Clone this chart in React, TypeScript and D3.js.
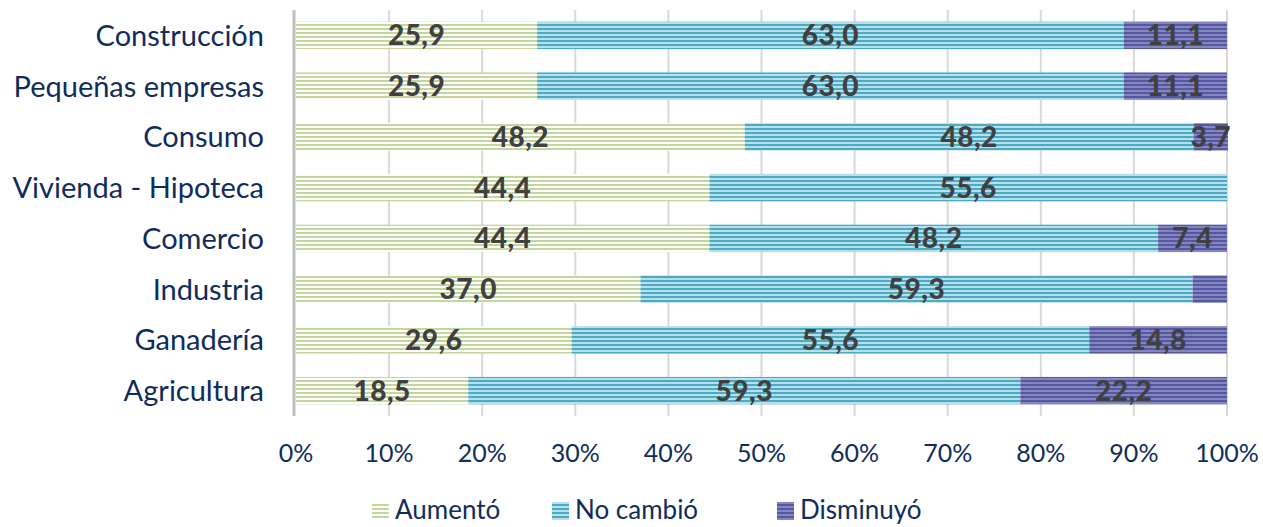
import React from "react";
import * as d3 from "d3";

const categories = ["Construcción", "Pequeñas empresas", "Consumo", "Vivienda - Hipoteca", "Comercio", "Industria", "Ganadería", "Agricultura"];
const aumento = [25.9, 25.9, 48.2, 44.4, 44.4, 37.0, 29.6, 18.5];
const noCambio = [63.0, 63.0, 48.2, 55.6, 48.2, 59.3, 55.6, 59.3];
const disminuyo = [11.1, 11.1, 3.7, 0, 7.4, 3.7, 14.8, 22.2];
const showLabel = [
  [true, true, true],
  [true, true, true],
  [true, true, true],
  [true, true, false],
  [true, true, true],
  [true, true, false],
  [true, true, true],
  [true, true, true],
];
const seriesNames = ["Aumentó", "No cambió", "Disminuyó"];
const ticks = [0, 10, 20, 30, 40, 50, 60, 70, 80, 90, 100];

const W = 1263, H = 527;
const FONT = "Lato, 'Open Sans', sans-serif";

const patterns = [
  { id: "pG", fg: "#c3d69b", bg: "#ffffff" },
  { id: "pB", fg: "#4aabc5", bg: "#b9e0ea" },
  { id: "pP", fg: "#55589e", bg: "#8486c2" },
];

export default function App() {
  const x = d3.scaleLinear().domain([0, 100]).range([296, 1227]);
  const y = d3.scaleBand().domain(categories).range([10, 416]).paddingInner(0.46).paddingOuter(0.23);
  const series = [aumento, noCambio, disminuyo];
  const fmt = (v: number) => v.toFixed(1).replace(".", ",");

  return (
    <svg width={W} height={H} style={{ position: "absolute", left: 0, top: 0, background: "#fff" }}>
      <defs>
        {patterns.map((p) => (
          <pattern key={p.id} id={p.id} width={8} height={4} patternUnits="userSpaceOnUse">
            <rect width={8} height={4} fill={p.bg} />
            <rect width={8} height={2} fill={p.fg} />
          </pattern>
        ))}
      </defs>
      {ticks.slice(1).map((t) => (
        <line key={t} x1={x(t)} x2={x(t)} y1={10} y2={416} stroke="#d9d9d9" strokeWidth={2} />
      ))}
      {categories.map((c, i) => {
        let acc = 0;
        return (
          <g key={c}>
            {series.map((s, k) => {
              const v = s[i];
              const x0 = x(acc);
              acc += v;
              const x1 = x(acc);
              if (v <= 0) return null;
              return (
                <rect key={k} x={x0} y={y(c)!} width={x1 - x0} height={y.bandwidth()} fill={`url(#${patterns[k].id})`} />
              );
            })}
          </g>
        );
      })}
      {categories.map((c, i) => {
        let acc = 0;
        return (
          <g key={c + "l"}>
            {series.map((s, k) => {
              const v = s[i];
              const mid = x(acc + v / 2);
              acc += v;
              if (!showLabel[i][k] || v <= 0) return null;
              return (
                <text key={k} x={mid} y={y(c)! + y.bandwidth() / 2} dy="0.36em" textAnchor="middle" fontFamily={FONT} fontWeight={900} fontSize={28} letterSpacing={0.5} fill="#404040">
                  {fmt(v)}
                </text>
              );
            })}
          </g>
        );
      })}
      <line x1={294} x2={294} y1={10} y2={416} stroke="#bfbfbf" strokeWidth={3} />
      {categories.map((c) => (
        <text key={c} x={264} y={y(c)! + y.bandwidth() / 2} dy="0.36em" textAnchor="end" fontFamily={FONT} fontSize={29} fill="#0f2d5c">
          {c}
        </text>
      ))}
      {ticks.map((t) => (
        <text key={t} x={x(t)} y={453} dy="0.36em" textAnchor="middle" fontFamily={FONT} fontSize={25} fill="#0f2d5c">
          {t}%
        </text>
      ))}
      {[372, 552, 777].map((lx, k) => (
        <g key={k}>
          <rect x={lx} y={502} width={17} height={18} fill={`url(#${patterns[k].id})`} />
          <text x={lx + 23} y={510} dy="0.36em" fontFamily={FONT} fontSize={26} fill="#0f2d5c">
            {seriesNames[k]}
          </text>
        </g>
      ))}
    </svg>
  );
}
